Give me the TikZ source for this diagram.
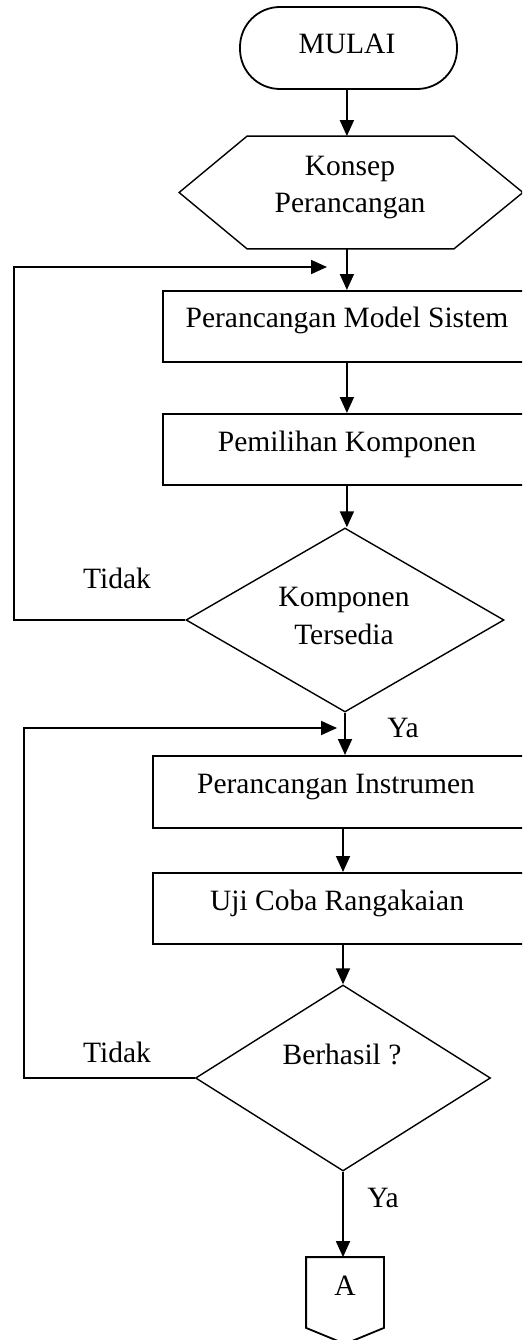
\documentclass[tikz,border=0pt]{standalone}
\usepackage{fontspec}
\setmainfont{Liberation Serif}
\usetikzlibrary{shapes.geometric,arrows.meta,calc}
\begin{document}
\begin{tikzpicture}[x=1pt,y=-1pt,
  line width=1.8pt,
  arr/.style={-{Triangle[length=16pt,width=14pt]}},
  txt/.style={anchor=base,inner sep=0pt,font=\fontsize{29.5}{37}\selectfont},
  box/.style={draw,rectangle,inner sep=0pt},
  dia/.style={draw,diamond,inner sep=0pt,line width=1.4pt},
  ]
\useasboundingbox (0,0) rectangle (522,1340);
\clip (0,0) rectangle (522,1340);

% terminal
\node[box,rounded corners=40pt,minimum width=217pt,minimum height=82pt] (mulai) at (348.5,48) {};
\node[txt] (tmulai) at (347,54) {MULAI};

% hexagon
\node[inner sep=0pt,minimum width=205pt,minimum height=111pt] (hex) at (350.5,192.5) {};
\draw[line width=1.4pt] (hex.north west) -- (hex.north east) -- ($(hex.east)+(69,0)$) -- (hex.south east) -- (hex.south west) -- ($(hex.west)+(-68,0)$) -- cycle;
\node[txt] (thex1) at (350,176) {Konsep};
\node[txt] (thex2) at (350,213) {Perancangan};

% process boxes
\node[box,anchor=north west,minimum width=368pt,minimum height=71pt] (r1) at (162,290) {};
\node[txt] (tr1) at (347,327) {Perancangan Model Sistem};
\node[box,anchor=north west,minimum width=368pt,minimum height=71pt] (r2) at (162,413) {};
\node[txt] (tr2) at (347,451) {Pemilihan Komponen};

% decision 1
\node[dia,minimum width=318pt,minimum height=184pt] (d1) at (345,620) {};
\node[txt] (td1a) at (344,606) {Komponen};
\node[txt] (td1b) at (344,644) {Tersedia};

\node[box,anchor=north west,minimum width=384pt,minimum height=72pt] (r3) at (152,755) {};
\node[txt] (tr3) at (336,793) {Perancangan Instrumen};
\node[box,anchor=north west,minimum width=384pt,minimum height=71pt] (r4) at (152,872) {};
\node[txt] (tr4) at (337,910) {Uji Coba Rangakaian};

% decision 2
\node[dia,minimum width=295pt,minimum height=186pt] (d2) at (343,1078) {};
\node[txt] (td2) at (342,1064) {Berhasil ?};

% off-page connector
\node[inner sep=0pt,minimum width=76pt,minimum height=69pt] (op) at (345,1292.5) {};
\draw (op.south west) -- (op.north west) -- (op.north east) -- (op.south east) -- ($(op.south)+(0,16)$) -- cycle;
\node[txt] (top) at (345,1295) {A};

% labels
\node[txt] (no1) at (117,588) {Tidak};
\node[txt] (yes1) at (403,737) {Ya};
\node[txt] (no2) at (117,1062) {Tidak};
\node[txt] (yes2) at (383,1207) {Ya};

% loop coordinates
\coordinate (l1) at (14,267);
\coordinate (in1) at (327,267);
\coordinate (l2) at (24,728);
\coordinate (in2) at (337,728);

% connectors
\draw[arr] (mulai.south -| r1.north) -- (hex.north -| r1.north);
\draw[arr] (hex.south -| r1.north) -- (r1.north);
\draw[arr] (r1.south) -- (r2.north);
\draw[arr] (r2.south) -- (r2.south |- d1.north);
\draw[arr] (d1.south) -- (d1.south |- r3.north);
\draw[arr] (d1.west) -- (d1.west -| l1) -- (l1) -- (in1);
\draw[arr] (r3.south -| d2.north) -- (r4.north -| d2.north);
\draw[arr] (r4.south -| d2.north) -- (d2.north);
\draw[arr] (d2.west) -- (d2.west -| l2) -- (l2) -- (in2);
\draw[arr] (d2.south) -- (d2.south |- op.north);
\end{tikzpicture}
\end{document}
